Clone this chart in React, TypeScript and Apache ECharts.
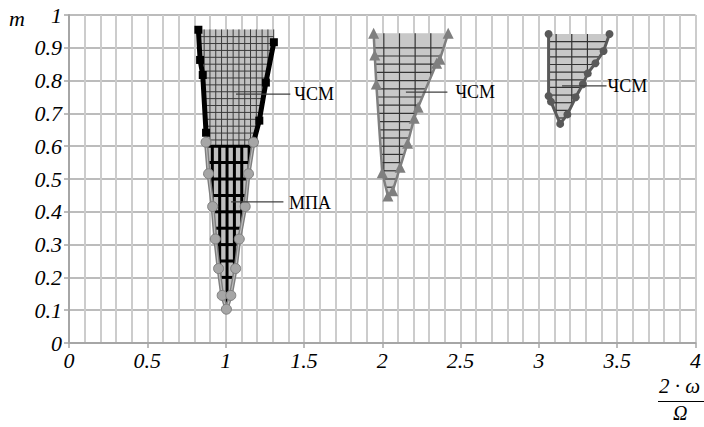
import React, { useEffect, useRef } from 'react';
import * as echarts from 'echarts';

// ---- axis ticks ----
const xTickLabels = ['0', '0.5', '1', '1.5', '2', '2.5', '3', '3.5', '4'];
const yTickLabels = ['0', '0.1', '0.2', '0.3', '0.4', '0.5', '0.6', '0.7', '0.8', '0.9', '1'];

// ---- ЧСМ (zone 1, black squares), ordered top -> bottom ----
const chsm1Left = [[0.826, 0.955], [0.837, 0.863], [0.854, 0.817], [0.875, 0.641]];
const chsm1Right = [[1.308, 0.917], [1.257, 0.794], [1.215, 0.678], [1.178, 0.612]];
const chsm1Top = 0.956;

// ---- МПА (grey circles), ordered top -> tip ----
const mpaLeft = [[0.875, 0.612], [0.891, 0.516], [0.917, 0.416], [0.934, 0.317], [0.955, 0.227], [0.978, 0.145], [1.005, 0.103]];
const mpaRight = [[1.178, 0.612], [1.146, 0.516], [1.125, 0.416], [1.087, 0.317], [1.064, 0.227], [1.033, 0.145], [1.005, 0.103]];
const mpaTop = 0.6;

// ---- ЧСМ (zone 2, triangles) boundary ----
const chsm2Boundary = [[1.945, 0.944], [1.952, 0.878], [1.962, 0.79], [2.0, 0.519], [2.036, 0.448], [2.067, 0.464], [2.114, 0.536], [2.162, 0.609], [2.204, 0.685], [2.229, 0.719], [2.347, 0.853], [2.368, 0.865], [2.421, 0.944]];

// ---- ЧСМ (zone 3, dark circles) boundary ----
const chsm3Boundary = [[3.062, 0.942], [3.062, 0.753], [3.077, 0.736], [3.136, 0.668], [3.182, 0.697], [3.235, 0.749], [3.281, 0.789], [3.312, 0.822], [3.361, 0.853], [3.413, 0.89], [3.451, 0.942]];

// ---- annotations: leader start, leader end, text anchor ----
const annoTexts = ['ЧСМ', 'МПА', 'ЧСМ', 'ЧСМ'];
const annoFrom = [[1.066, 0.759], [1.035, 0.43], [2.151, 0.765], [3.148, 0.784]];
const annoTo = [[1.413, 0.759], [1.369, 0.43], [2.416, 0.765], [3.432, 0.784]];
const annoAt = [[1.438, 0.759], [1.405, 0.426], [2.467, 0.765], [3.438, 0.784]];

const SERIF = 'Liberation Serif';

function xAt(side: number[][], y: number): number {
  if (y >= side[0][1]) return side[0][0];
  for (let i = 0; i < side.length - 1; i++) {
    const [x1, y1] = side[i];
    const [x2, y2] = side[i + 1];
    if (y <= y1 && y >= y2) return y1 === y2 ? x1 : x1 + ((x2 - x1) * (y - y1)) / (y2 - y1);
  }
  return side[side.length - 1][0];
}

function slab(left: number[][], right: number[][], yLow: number, yHigh: number): number[][] {
  const inside = (p: number[]) => p[1] < yHigh && p[1] > yLow;
  return [
    [xAt(left, yHigh), yHigh],
    ...left.filter(inside),
    [xAt(left, yLow), yLow],
    [xAt(right, yLow), yLow],
    ...right.filter(inside).reverse(),
    [xAt(right, yHigh), yHigh],
  ];
}

// clip an axis-parallel line against polygon (pixel space), even-odd
function clipLine(poly: number[][], horizontal: boolean, c: number): number[][] {
  const hits: number[] = [];
  const n = poly.length;
  for (let i = 0; i < n; i++) {
    const p = poly[i];
    const q = poly[(i + 1) % n];
    const a = horizontal ? p[1] : p[0];
    const b = horizontal ? q[1] : q[0];
    if ((a <= c && b > c) || (b <= c && a > c)) {
      const t = (c - a) / (b - a);
      hits.push(horizontal ? p[0] + t * (q[0] - p[0]) : p[1] + t * (q[1] - p[1]));
    }
  }
  hits.sort((u, v) => u - v);
  const segs: number[][] = [];
  for (let i = 0; i + 1 < hits.length; i += 2) segs.push([hits[i], hits[i + 1]]);
  return segs;
}

type Hatch = {
  fill: string;
  hStart: number; hStep: number; hEnd: number;
  vStart: number; vStep: number; vEnd: number;
  color: string; width: number;
};

function regionSeries(poly: number[][], h: Hatch, z: number) {
  return {
    type: 'custom',
    coordinateSystem: 'cartesian2d',
    silent: true,
    z,
    data: [[poly[0][0], poly[0][1]]],
    renderItem: (_params: any, api: any) => {
      const pts = poly.map((p) => api.coord(p));
      const children: any[] = [
        { type: 'polygon', shape: { points: pts }, style: { fill: h.fill, stroke: null } },
      ];
      const lineStyle = { stroke: h.color, lineWidth: h.width, lineCap: 'butt' };
      for (let y = h.hStart; y >= h.hEnd - 1e-9; y -= h.hStep) {
        const py = api.coord([0, y])[1];
        clipLine(pts, true, py).forEach(([a, b]) =>
          children.push({ type: 'line', shape: { x1: a, y1: py, x2: b, y2: py }, style: lineStyle }));
      }
      for (let x = h.vStart; x <= h.vEnd + 1e-9; x += h.vStep) {
        const px = api.coord([x, 0])[0];
        clipLine(pts, false, px).forEach(([a, b]) =>
          children.push({ type: 'line', shape: { x1: px, y1: a, x2: px, y2: b }, style: lineStyle }));
      }
      return { type: 'group', children };
    },
  };
}

export default function App() {
  const ref = useRef<HTMLDivElement>(null);
  useEffect(() => {
    if (!ref.current) return;
    const chart = echarts.init(ref.current, null, { renderer: 'svg' });

    const fullLeft = [...chsm1Left, ...mpaLeft];
    const fullRight = [...chsm1Right, ...mpaRight];
    const chsm1Poly = slab(fullLeft, fullRight, mpaTop, chsm1Top);
    const mpaPoly = slab(fullLeft, fullRight, mpaLeft[mpaLeft.length - 1][1], mpaTop);
    const mpaBoundary = [...mpaLeft, ...mpaRight.slice(0, -1).reverse()];

    const axisLabel = {
      fontFamily: SERIF,
      fontStyle: 'italic',
      fontSize: 22,
      color: '#000',
    };

    chart.setOption({
      animation: false,
      backgroundColor: '#fff',
      textStyle: { fontFamily: SERIF },
      grid: { left: 69, right: 1, top: 15, bottom: 84, containLabel: false },
      xAxis: {
        type: 'value',
        min: 0,
        max: 4,
        interval: 0.5,
        axisLine: { show: true, onZero: false, lineStyle: { color: '#a6a6a6', width: 2 } },
        axisTick: { show: true, length: 5, lineStyle: { color: '#a6a6a6', width: 1.5 } },
        axisLabel: { ...axisLabel, margin: 6, formatter: (v: number) => xTickLabels[Math.round(v * 2)] ?? String(v) },
        splitLine: { show: true, lineStyle: { color: '#cccccc', width: 2 } },
        minorTick: { show: false, splitNumber: 5 },
        minorSplitLine: { show: true, lineStyle: { color: '#cccccc', width: 2 } },
      },
      yAxis: {
        type: 'value',
        min: 0,
        max: 1,
        interval: 0.1,
        axisLine: { show: true, onZero: false, lineStyle: { color: '#a6a6a6', width: 2 } },
        axisTick: { show: true, length: 5, lineStyle: { color: '#a6a6a6', width: 1.5 } },
        axisLabel: { ...axisLabel, margin: 7, formatter: (v: number) => yTickLabels[Math.round(v * 10)] ?? String(v) },
        splitLine: { show: true, lineStyle: { color: '#a6a6a6', width: 1.5 } },
      },
      graphic: [
        { type: 'text', left: 9, top: 7, style: { text: 'm', fontFamily: SERIF, fontStyle: 'italic', fontSize: 22, fill: '#000' } },
        { type: 'text', x: 659, y: 375, style: { text: '2 \u00B7 \u03C9', fontFamily: SERIF, fontStyle: 'italic', fontSize: 21, fill: '#000' } },
        { type: 'line', shape: { x1: 658, y1: 401.5, x2: 704, y2: 401.5 }, style: { stroke: '#000', lineWidth: 1.2 } },
        { type: 'text', x: 673, y: 403, style: { text: '\u03A9', fontFamily: SERIF, fontStyle: 'italic', fontSize: 20, fill: '#000' } },
      ],
      series: [
        regionSeries(chsm1Poly, { fill: '#c0c0c0', hStart: 0.934, hStep: 0.021, hEnd: 0.61, vStart: 0.863, vStep: 0.037, vEnd: 1.32, color: '#3a3a3a', width: 1 }, 2),
        regionSeries(mpaPoly, { fill: '#c0c0c0', hStart: 0.6, hStep: 0.05, hEnd: 0.2, vStart: 0.915, vStep: 0.047, vEnd: 1.2, color: '#000', width: 3 }, 2),
        regionSeries(chsm2Boundary, { fill: '#c8c8c8', hStart: 0.9, hStep: 0.025, hEnd: 0.45, vStart: 2.01, vStep: 0.1, vEnd: 2.32, color: '#333', width: 1.2 }, 2),
        regionSeries(chsm3Boundary, { fill: '#c8c8c8', hStart: 0.919, hStep: 0.0233, hEnd: 0.67, vStart: 3.11, vStep: 0.1, vEnd: 3.32, color: '#333', width: 1.2 }, 2),
        {
          type: 'line', z: 3, data: chsm1Left, symbol: 'rect', symbolSize: 8,
          lineStyle: { color: '#000', width: 5 }, itemStyle: { color: '#000' }, silent: true,
        },
        {
          type: 'line', z: 3, data: chsm1Right, symbol: 'rect', symbolSize: 8,
          lineStyle: { color: '#000', width: 5 }, itemStyle: { color: '#000' }, silent: true,
        },
        {
          type: 'line', z: 4, data: mpaBoundary, symbol: 'circle', symbolSize: 10,
          lineStyle: { color: '#7f7f7f', width: 4 },
          itemStyle: { color: '#a6a6a6', borderColor: '#7f7f7f', borderWidth: 1 }, silent: true,
        },
        {
          type: 'line', z: 4, data: mpaBoundary, symbol: 'none',
          lineStyle: { color: '#bdbdbd', width: 1.2 }, silent: true,
        },
        {
          type: 'line', z: 4, data: chsm2Boundary, symbol: 'triangle', symbolSize: 11,
          lineStyle: { color: '#7f7f7f', width: 2.5 }, itemStyle: { color: '#7f7f7f' }, silent: true,
        },
        {
          type: 'line', z: 4, data: chsm3Boundary, symbol: 'circle', symbolSize: 8,
          lineStyle: { color: '#595959', width: 3 }, itemStyle: { color: '#595959' }, silent: true,
        },
        {
          type: 'custom', coordinateSystem: 'cartesian2d', silent: true, z: 6,
          data: annoFrom.map((p, i) => [p[0], p[1], annoTo[i][0], annoTo[i][1], annoAt[i][0], annoAt[i][1]]),
          renderItem: (params: any, api: any) => {
            const a = api.coord([api.value(0), api.value(1)]);
            const b = api.coord([api.value(2), api.value(3)]);
            const t = api.coord([api.value(4), api.value(5)]);
            return {
              type: 'group',
              children: [
                { type: 'line', shape: { x1: a[0], y1: a[1], x2: b[0], y2: b[1] }, style: { stroke: '#404040', lineWidth: 1.2 } },
                {
                  type: 'text', x: t[0], y: t[1],
                  style: { text: annoTexts[params.dataIndex], fontFamily: SERIF, fontSize: 18, fill: '#000', align: 'left', verticalAlign: 'middle' },
                },
              ],
            };
          },
        },
      ],
    });
    return () => chart.dispose();
  }, []);
  return <div ref={ref} style={{ position: 'fixed', left: 0, top: 0, width: 704, height: 427 }} />;
}
